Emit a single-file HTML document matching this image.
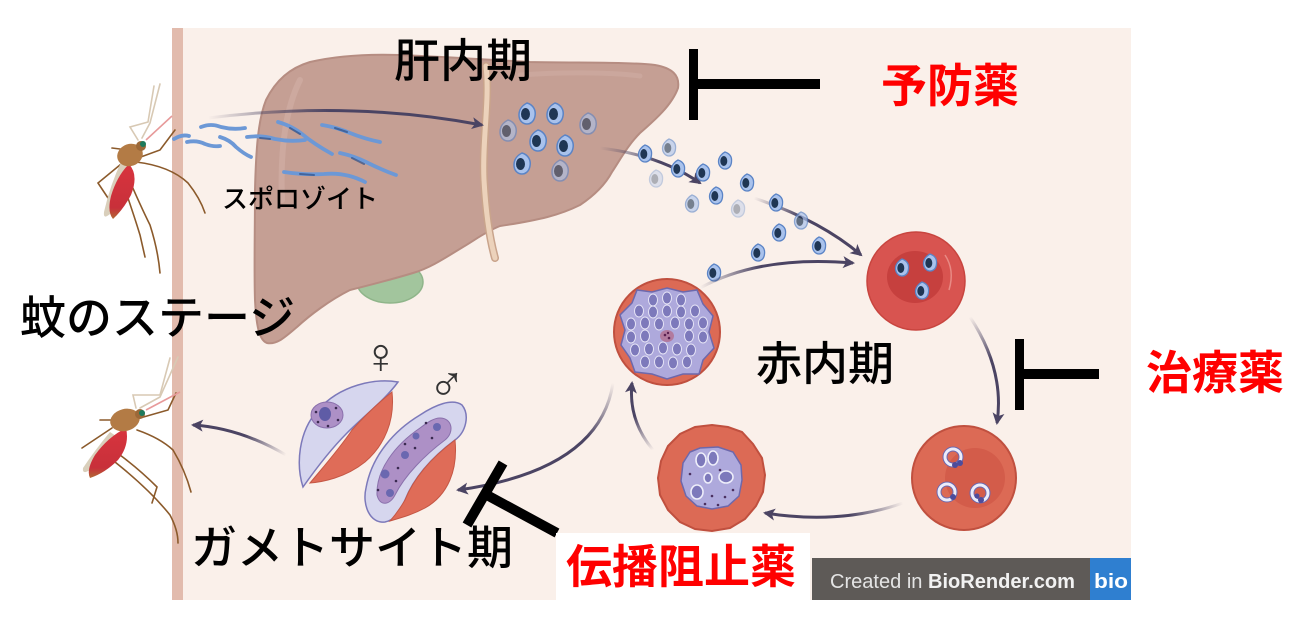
<!DOCTYPE html>
<html><head><meta charset="utf-8"><style>
html,body{margin:0;padding:0;background:#fff;}
svg{display:block;}
text{font-family:"Liberation Sans","Noto Sans CJK JP",sans-serif;}
</style></head><body>
<svg width="1300" height="628" viewBox="0 0 1300 628" xmlns="http://www.w3.org/2000/svg">
<defs>
<marker id="ah" markerWidth="14" markerHeight="14" refX="10" refY="6" orient="auto" markerUnits="userSpaceOnUse">
<path d="M0,0 L12,6 L0,12 L3,6 Z" fill="#4b4463"/>
</marker>
<g id="mz"><path d="M0,-10 C7,-8 9,-2 8,3 C7,9 3,11 0,11 C-4,11 -8,8 -8,2 C-8,-4 -4,-8 0,-10 Z" fill="#a9c2ec" stroke="#5b84c6" stroke-width="1.5"/><ellipse cx="-1.5" cy="1" rx="4.5" ry="6" fill="#1f3654"/></g>
<g id="mzs"><path d="M0,-8 C6,-6 7,-2 6.5,2 C6,7 3,9 0,9 C-3,9 -6.5,6 -6.5,1.5 C-6.5,-3 -3,-6.5 0,-8 Z" fill="#a9c2ec" stroke="#5b84c6" stroke-width="1.3"/><ellipse cx="-1.2" cy="1" rx="3.5" ry="5" fill="#1f3654"/></g>
<linearGradient id="g1" gradientUnits="userSpaceOnUse" x1="208" y1="0" x2="330" y2="0"><stop offset="0" stop-color="#4b4463" stop-opacity="0"/><stop offset="1" stop-color="#4b4463"/></linearGradient>
<linearGradient id="g2" gradientUnits="userSpaceOnUse" x1="600" y1="148" x2="660" y2="160"><stop offset="0" stop-color="#4b4463" stop-opacity="0"/><stop offset="1" stop-color="#4b4463"/></linearGradient>
<linearGradient id="g3" gradientUnits="userSpaceOnUse" x1="754" y1="198" x2="800" y2="215"><stop offset="0" stop-color="#4b4463" stop-opacity="0"/><stop offset="1" stop-color="#4b4463"/></linearGradient>
<linearGradient id="g4" gradientUnits="userSpaceOnUse" x1="700" y1="288" x2="760" y2="265"><stop offset="0" stop-color="#4b4463" stop-opacity="0"/><stop offset="1" stop-color="#4b4463"/></linearGradient>
<linearGradient id="g5" gradientUnits="userSpaceOnUse" x1="970" y1="317" x2="990" y2="360"><stop offset="0" stop-color="#4b4463" stop-opacity="0"/><stop offset="1" stop-color="#4b4463"/></linearGradient>
<linearGradient id="g6" gradientUnits="userSpaceOnUse" x1="903" y1="503" x2="850" y2="515"><stop offset="0" stop-color="#4b4463" stop-opacity="0"/><stop offset="1" stop-color="#4b4463"/></linearGradient>
<linearGradient id="g7" gradientUnits="userSpaceOnUse" x1="653" y1="450" x2="638" y2="415"><stop offset="0" stop-color="#4b4463" stop-opacity="0"/><stop offset="1" stop-color="#4b4463"/></linearGradient>
<linearGradient id="g8" gradientUnits="userSpaceOnUse" x1="613" y1="383" x2="595" y2="440"><stop offset="0" stop-color="#4b4463" stop-opacity="0"/><stop offset="1" stop-color="#4b4463"/></linearGradient>
<linearGradient id="g9" gradientUnits="userSpaceOnUse" x1="286" y1="455" x2="245" y2="435"><stop offset="0" stop-color="#4b4463" stop-opacity="0"/><stop offset="1" stop-color="#4b4463"/></linearGradient>
<linearGradient id="abd" x1="0" y1="0" x2="0" y2="1"><stop offset="0" stop-color="#d8343e"/><stop offset="0.8" stop-color="#c8303a"/><stop offset="1" stop-color="#b06a35"/></linearGradient>
</defs>

<!-- panel -->
<rect x="172" y="28" width="959" height="572" fill="#faf0ea"/>
<rect x="172" y="28" width="11" height="572" fill="#e2bbad"/>

<!-- gallbladder -->
<ellipse cx="390" cy="282" rx="33" ry="21" fill="#a2c59d" stroke="#8fb58a" stroke-width="1.5"/>

<!-- liver -->
<path d="M267,343 C258,340 256,320 255,300 C254,270 255,230 255,190 C256,150 258,120 266,100 C276,80 290,68 310,62 C340,55 370,54 400,55 C450,57 490,60 530,62 C580,63 630,62 655,65 C672,68 680,75 678,88 C672,105 655,120 640,133 C628,145 620,160 612,172 C605,185 595,195 580,205 C560,215 540,220 500,226 C485,232 475,240 463,247 C445,258 430,268 413,273 C390,280 370,285 350,290 C330,300 310,315 297,327 C285,337 277,345 267,343 Z" fill="#c59f94" stroke="#b68d82" stroke-width="2"/>
<path d="M300,80 C285,110 280,150 282,200" stroke="#d2b0a6" stroke-width="6" fill="none" opacity="0.6" stroke-linecap="round"/>
<path d="M520,75 C560,72 610,72 640,76" stroke="#d2b0a6" stroke-width="5" fill="none" opacity="0.5" stroke-linecap="round"/>
<!-- ligament -->
<path d="M486,66 C490,100 482,140 484,180 C486,215 490,240 495,258" stroke="#c9a48c" stroke-width="8" fill="none" stroke-linecap="round"/>
<path d="M486,66 C490,100 482,140 484,180 C486,215 490,240 495,258" stroke="#ecd2bb" stroke-width="5" fill="none" stroke-linecap="round"/>

<!-- sporozoites -->
<g fill="none" stroke="#6c98d6" stroke-width="3.8" stroke-linecap="round">
<path d="M174,139 q8,-5 15,-3"/>
<path d="M201,127 q10,-4 20,0 q12,3 24,1"/>
<path d="M187,142 q10,-2 18,2 q8,3 15,2"/>
<path d="M220,137 q10,3 16,10 q8,7 15,10"/>
<path d="M247,137 q14,-2 28,2 q15,3 30,1"/>
<path d="M278,122 q14,4 24,12 q12,10 30,20"/>
<path d="M322,125 q14,2 28,8 q15,6 30,9"/>
<path d="M340,153 q14,3 26,9 q16,8 30,13"/>
<path d="M284,172 q20,3 40,2 q22,-2 41,8"/>
</g>
<g fill="none" stroke="#2f4f86" stroke-width="2" stroke-linecap="round" opacity="0.7">
<path d="M290,128 l10,6"/><path d="M335,128 l12,4"/><path d="M352,158 l12,6"/><path d="M300,174 l14,1"/><path d="M260,138 l10,1"/>
</g>

<!-- sporozoite arrow -->
<path d="M208,118 Q350,100 482,125" stroke="url(#g1)" stroke-width="3" fill="none" marker-end="url(#ah)"/>

<!-- liver cluster -->
<use href="#mz" x="527" y="113"/><use href="#mz" x="555" y="113"/><use href="#mz" x="588" y="123" opacity="0.6"/>
<use href="#mz" x="508" y="130" opacity="0.6"/><use href="#mz" x="538" y="140"/><use href="#mz" x="565" y="145"/>
<use href="#mz" x="522" y="163"/><use href="#mz" x="560" y="170" opacity="0.6"/>

<!-- merozoite arrows -->
<path d="M600,148 Q660,155 700,183" stroke="url(#g2)" stroke-width="3" fill="none" marker-end="url(#ah)"/>
<path d="M754,198 Q820,220 861,255" stroke="url(#g3)" stroke-width="3" fill="none" marker-end="url(#ah)"/>
<!-- merozoite trail -->
<use href="#mzs" x="645" y="153"/><use href="#mzs" x="669" y="147" opacity="0.6"/><use href="#mzs" x="656" y="178" opacity="0.35"/>
<use href="#mzs" x="678" y="168"/><use href="#mzs" x="703" y="172"/><use href="#mzs" x="725" y="160"/>
<use href="#mzs" x="747" y="182"/><use href="#mzs" x="716" y="195"/><use href="#mzs" x="692" y="203" opacity="0.6"/>
<use href="#mzs" x="738" y="208" opacity="0.35"/><use href="#mzs" x="776" y="202"/><use href="#mzs" x="801" y="220" opacity="0.7"/>
<use href="#mzs" x="779" y="232"/><use href="#mzs" x="819" y="245"/><use href="#mzs" x="758" y="252"/>
<use href="#mzs" x="714" y="272"/>

<!-- RBC top right -->
<circle cx="916" cy="281" r="49" fill="#d85450" stroke="#c8453f" stroke-width="1.5"/>
<ellipse cx="915" cy="277" rx="28" ry="26" fill="#c6403e"/>
<path d="M945,255 q10,15 4,35" stroke="#e88a84" stroke-width="1.5" fill="none"/>
<use href="#mzs" x="902" y="267"/><use href="#mzs" x="930" y="262"/><use href="#mzs" x="922" y="290"/>

<!-- schizont -->
<circle cx="667" cy="332" r="53" fill="#dc6a55" stroke="#c0503f" stroke-width="2"/>
<path d="M667,288 L683,292 L697,290 L703,304 L713,316 L709,332 L714,348 L703,360 L699,374 L683,374 L667,379 L652,374 L635,372 L630,358 L621,345 L625,330 L620,315 L632,303 L637,290 L652,292 Z" fill="#aea9dc" stroke="#6d68ac" stroke-width="1.5"/>
<g fill="#7d79bb" stroke="#e6e4f6" stroke-width="1">
<ellipse cx="653" cy="300" rx="4.5" ry="6"/><ellipse cx="667" cy="298" rx="4.5" ry="6"/><ellipse cx="681" cy="300" rx="4.5" ry="6"/>
<ellipse cx="639" cy="311" rx="4.5" ry="6"/><ellipse cx="653" cy="312" rx="4.5" ry="6"/><ellipse cx="667" cy="311" rx="4.5" ry="6"/><ellipse cx="681" cy="312" rx="4.5" ry="6"/><ellipse cx="695" cy="311" rx="4.5" ry="6"/>
<ellipse cx="631" cy="324" rx="4.5" ry="6"/><ellipse cx="645" cy="323" rx="4.5" ry="6"/><ellipse cx="659" cy="324" rx="4.5" ry="6"/><ellipse cx="675" cy="323" rx="4.5" ry="6"/><ellipse cx="689" cy="324" rx="4.5" ry="6"/><ellipse cx="703" cy="323" rx="4.5" ry="6"/>
<ellipse cx="631" cy="337" rx="4.5" ry="6"/><ellipse cx="645" cy="336" rx="4.5" ry="6"/><ellipse cx="689" cy="336" rx="4.5" ry="6"/><ellipse cx="703" cy="337" rx="4.5" ry="6"/>
<ellipse cx="635" cy="350" rx="4.5" ry="6"/><ellipse cx="649" cy="349" rx="4.5" ry="6"/><ellipse cx="663" cy="348" rx="4.5" ry="6"/><ellipse cx="677" cy="349" rx="4.5" ry="6"/><ellipse cx="691" cy="350" rx="4.5" ry="6"/>
<ellipse cx="645" cy="362" rx="4.5" ry="6"/><ellipse cx="659" cy="362" rx="4.5" ry="6"/><ellipse cx="673" cy="363" rx="4.5" ry="6"/><ellipse cx="687" cy="362" rx="4.5" ry="6"/>
</g>
<ellipse cx="667" cy="336" rx="7" ry="6" fill="#b27a9e"/>
<circle cx="665" cy="335" r="1.3" fill="#5a2050"/><circle cx="669" cy="338" r="1.3" fill="#5a2050"/><circle cx="668" cy="333" r="1.2" fill="#5a2050"/>

<!-- trophozoite -->
<path d="M712,425 L728,427 L742,432 L753,444 L762,458 L765,475 L763,492 L756,506 L745,519 L730,528 L712,531 L695,529 L680,522 L668,510 L660,495 L658,478 L661,461 L668,446 L680,434 L695,427 Z" fill="#dc6a55" stroke="#c0503f" stroke-width="2"/>
<path d="M700,448 L718,447 L733,452 L741,465 L742,480 L739,496 L728,506 L712,509 L697,506 L686,496 L681,481 L683,463 L690,452 Z" fill="#aea9dc" stroke="#6d68ac" stroke-width="1.5"/>
<g fill="#7d79bb" stroke="#eeeefa" stroke-width="1.6">
<ellipse cx="701" cy="460" rx="5" ry="7"/><ellipse cx="713" cy="458" rx="5" ry="7"/><ellipse cx="726" cy="477" rx="7" ry="6"/><ellipse cx="697" cy="492" rx="6" ry="7"/><ellipse cx="708" cy="478" rx="4" ry="5"/>
</g>
<g fill="#4a3060"><circle cx="720" cy="470" r="1.3"/><circle cx="712" cy="496" r="1.3"/><circle cx="725" cy="497" r="1.3"/><circle cx="733" cy="490" r="1.3"/><circle cx="690" cy="474" r="1.3"/><circle cx="718" cy="505" r="1.3"/><circle cx="705" cy="504" r="1.3"/></g>

<!-- ring cell -->
<circle cx="964" cy="478" r="52" fill="#dc6a55" stroke="#c0503f" stroke-width="2"/>
<ellipse cx="975" cy="478" rx="30" ry="30" fill="#d35c4a"/>
<g fill="none" stroke="#6a68b0" stroke-width="5"><circle cx="953" cy="457" r="8"/><circle cx="947" cy="492" r="8"/><circle cx="980" cy="493" r="8"/></g>
<g fill="none" stroke="#ececfa" stroke-width="3"><circle cx="953" cy="457" r="8"/><circle cx="947" cy="492" r="8"/><circle cx="980" cy="493" r="8"/></g>
<g fill="#4d4c9c"><circle cx="955" cy="465" r="3"/><circle cx="960" cy="463" r="3"/><circle cx="953" cy="497" r="3"/><circle cx="981" cy="500" r="3"/><circle cx="977" cy="496" r="2.5"/></g>

<!-- cycle arrows -->
<path d="M700,288 Q760,255 853,263" stroke="url(#g4)" stroke-width="3" fill="none" marker-end="url(#ah)"/>
<path d="M970,317 Q1005,370 997,423" stroke="url(#g5)" stroke-width="3" fill="none" marker-end="url(#ah)"/>
<path d="M903,503 Q840,525 765,513" stroke="url(#g6)" stroke-width="3" fill="none" marker-end="url(#ah)"/>
<path d="M653,450 Q628,420 632,383" stroke="url(#g7)" stroke-width="3" fill="none" marker-end="url(#ah)"/>
<path d="M613,383 Q600,470 458,490" stroke="url(#g8)" stroke-width="3" fill="none" marker-end="url(#ah)"/>
<path d="M286,455 Q240,428 193,425" stroke="url(#g9)" stroke-width="3" fill="none" marker-end="url(#ah)"/>

<!-- female gametocyte -->
<path d="M398,382 C375,378 340,385 318,410 C298,432 296,465 303,487 C315,470 330,450 347,433 C365,415 385,400 398,382 Z" fill="#d6d6ee" stroke="#7c79ba" stroke-width="1.5"/>
<path d="M392,392 C395,420 385,445 365,462 C345,478 322,482 310,483 C325,465 340,448 352,430 C368,412 382,400 392,392 Z" fill="#df6c58" stroke="#c55745" stroke-width="1"/>
<ellipse cx="327" cy="415" rx="16" ry="13" fill="#ad90c6" stroke="#8a70ac" stroke-width="1"/>
<ellipse cx="325" cy="414" rx="6" ry="7" fill="#5f5ca6"/>
<g fill="#3a2a50"><circle cx="316" cy="412" r="1.3"/><circle cx="336" cy="408" r="1.3"/><circle cx="338" cy="420" r="1.3"/><circle cx="318" cy="422" r="1.3"/><circle cx="328" cy="426" r="1.3"/></g>
<text x="362" y="373" font-size="50" fill="#333" font-family="DejaVu Sans, sans-serif">♀</text>

<!-- male gametocyte -->
<path d="M462,405 C470,415 466,432 455,440 C435,455 415,475 405,500 C400,512 395,520 385,522 C370,524 362,505 366,488 C372,455 395,430 420,415 C435,405 452,398 462,405 Z" fill="#d6d6ee" stroke="#7c79ba" stroke-width="1.5"/>
<path d="M455,440 C458,470 448,495 425,508 C412,515 400,518 390,521 C398,512 402,505 405,500 C415,475 435,455 455,440 Z" fill="#df6c58" stroke="#c55745" stroke-width="1"/>
<path d="M440,418 C452,418 455,432 445,440 C425,455 405,475 395,495 C390,505 380,507 377,495 C376,470 395,445 420,428 C428,422 434,418 440,418 Z" fill="#ad90c6" stroke="#8a70ac" stroke-width="1"/>
<g fill="#6a68b0"><circle cx="437" cy="427" r="4"/><circle cx="416" cy="436" r="3.5"/><circle cx="405" cy="455" r="4"/><circle cx="385" cy="474" r="4.5"/><circle cx="390" cy="493" r="4"/></g>
<g fill="#3a2a50"><circle cx="426" cy="423" r="1.3"/><circle cx="432" cy="438" r="1.3"/><circle cx="415" cy="448" r="1.3"/><circle cx="398" cy="468" r="1.3"/><circle cx="396" cy="481" r="1.3"/><circle cx="378" cy="490" r="1.3"/><circle cx="405" cy="444" r="1.3"/></g>
<text x="428" y="401" font-size="50" fill="#333" font-family="DejaVu Sans, sans-serif">♂</text>

<!-- mosquito 1 -->
<g fill="none" stroke="#8b5a2b" stroke-width="1.6" stroke-linecap="round">
<path d="M138,158 L160,150 L175,130"/>
<path d="M136,162 Q170,166 188,183 Q200,198 205,213"/>
<path d="M126,160 L98,183 L108,198"/>
<path d="M125,170 Q140,205 150,225 Q158,250 160,273"/>
<path d="M120,175 Q133,212 140,235 L145,257"/>
<path d="M128,150 L112,148"/>
</g>
<g fill="none" stroke="#d8c9b4" stroke-width="1.6" stroke-linecap="round">
<path d="M138,140 L130,127 L148,122 L154,86"/>
<path d="M142,138 L150,123 L160,84"/>
</g>
<path d="M146,140 L172,116" stroke="#e79a9a" stroke-width="1.6"/>
<path d="M122,160 Q110,185 104,212 Q103,220 110,214 Q120,190 128,165 Z" fill="#d9cfbb"/>
<path d="M129,164 Q139,175 131,195 Q123,210 113,219 Q107,212 111,196 Q117,176 129,164 Z" fill="url(#abd)"/>
<ellipse cx="130" cy="155" rx="13" ry="11" fill="#b37b45" transform="rotate(-20 130 155)"/>
<circle cx="141" cy="146" r="5" fill="#9c6838"/>
<circle cx="143" cy="144" r="3" fill="#1d7a5c"/>

<!-- mosquito 2 -->
<g fill="none" stroke="#8b5a2b" stroke-width="1.6" stroke-linecap="round">
<path d="M140,418 L168,410 L176,393"/>
<path d="M137,430 Q160,438 173,450 Q185,470 191,492"/>
<path d="M112,428 L82,448"/>
<path d="M120,455 Q140,470 157,487 L152,503"/>
<path d="M115,462 Q150,490 170,515 Q178,530 178,543"/>
<path d="M118,420 L100,420"/>
</g>
<g fill="none" stroke="#d8c9b4" stroke-width="1.6" stroke-linecap="round">
<path d="M136,408 L133,395 L160,395 L170,358"/>
<path d="M140,408 L160,397 L178,357"/>
</g>
<path d="M146,410 L180,392" stroke="#e79a9a" stroke-width="1.6"/>
<path d="M110,432 Q95,450 83,468 Q82,475 90,470 Q105,452 116,436 Z" fill="#d9cfbb"/>
<path d="M126,428 Q130,445 118,460 Q105,473 90,478 Q86,470 95,455 Q108,437 126,428 Z" fill="url(#abd)"/>
<ellipse cx="125" cy="420" rx="15" ry="11" fill="#b37b45" transform="rotate(-15 125 420)"/>
<circle cx="140" cy="414" r="5" fill="#9c6838"/>
<circle cx="142" cy="413" r="3" fill="#1d7a5c"/>

<!-- T-bars -->
<rect x="689" y="49" width="9" height="71" fill="#000"/>
<rect x="689" y="79" width="131" height="10" fill="#000"/>
<rect x="1015" y="339" width="9" height="71" fill="#000"/>
<rect x="1015" y="369" width="84" height="10" fill="#000"/>
<line x1="467" y1="525" x2="503" y2="463" stroke="#000" stroke-width="10"/>
<line x1="485" y1="494" x2="557" y2="533" stroke="#000" stroke-width="10"/>

<!-- white box -->
<rect x="556" y="533" width="254" height="95" fill="#fff"/>

<!-- badge -->
<rect x="812" y="558" width="278" height="42" fill="#5e5a57"/>
<rect x="1090" y="558" width="41" height="42" fill="#2f7fd0"/>
<text x="830" y="588" font-size="20" fill="#e4e4e4" textLength="245" lengthAdjust="spacingAndGlyphs">Created in <tspan font-weight="bold" fill="#f2f2f2">BioRender.com</tspan></text>
<text x="1094" y="588" font-size="20" font-weight="bold" fill="#fff" textLength="34" lengthAdjust="spacingAndGlyphs">bio</text>

<!-- labels -->
<text x="394" y="77" font-size="46" font-weight="500" fill="#000">肝内期</text>
<text x="881" y="102" font-size="46" font-weight="bold" fill="#ff0000">予防薬</text>
<text x="222" y="208" font-size="26" font-weight="500" fill="#000">スポロゾイト</text>
<text x="20" y="334" font-size="46" font-weight="500" fill="#000">蚊のステージ</text>
<text x="756" y="380" font-size="46" font-weight="500" fill="#000">赤内期</text>
<text x="1146" y="389" font-size="46" font-weight="bold" fill="#ff0000">治療薬</text>
<text x="191" y="564" font-size="46" font-weight="500" fill="#000">ガメトサイト期</text>
<text x="566" y="583" font-size="46" font-weight="bold" fill="#ff0000">伝播阻止薬</text>
</svg>
</body></html>
